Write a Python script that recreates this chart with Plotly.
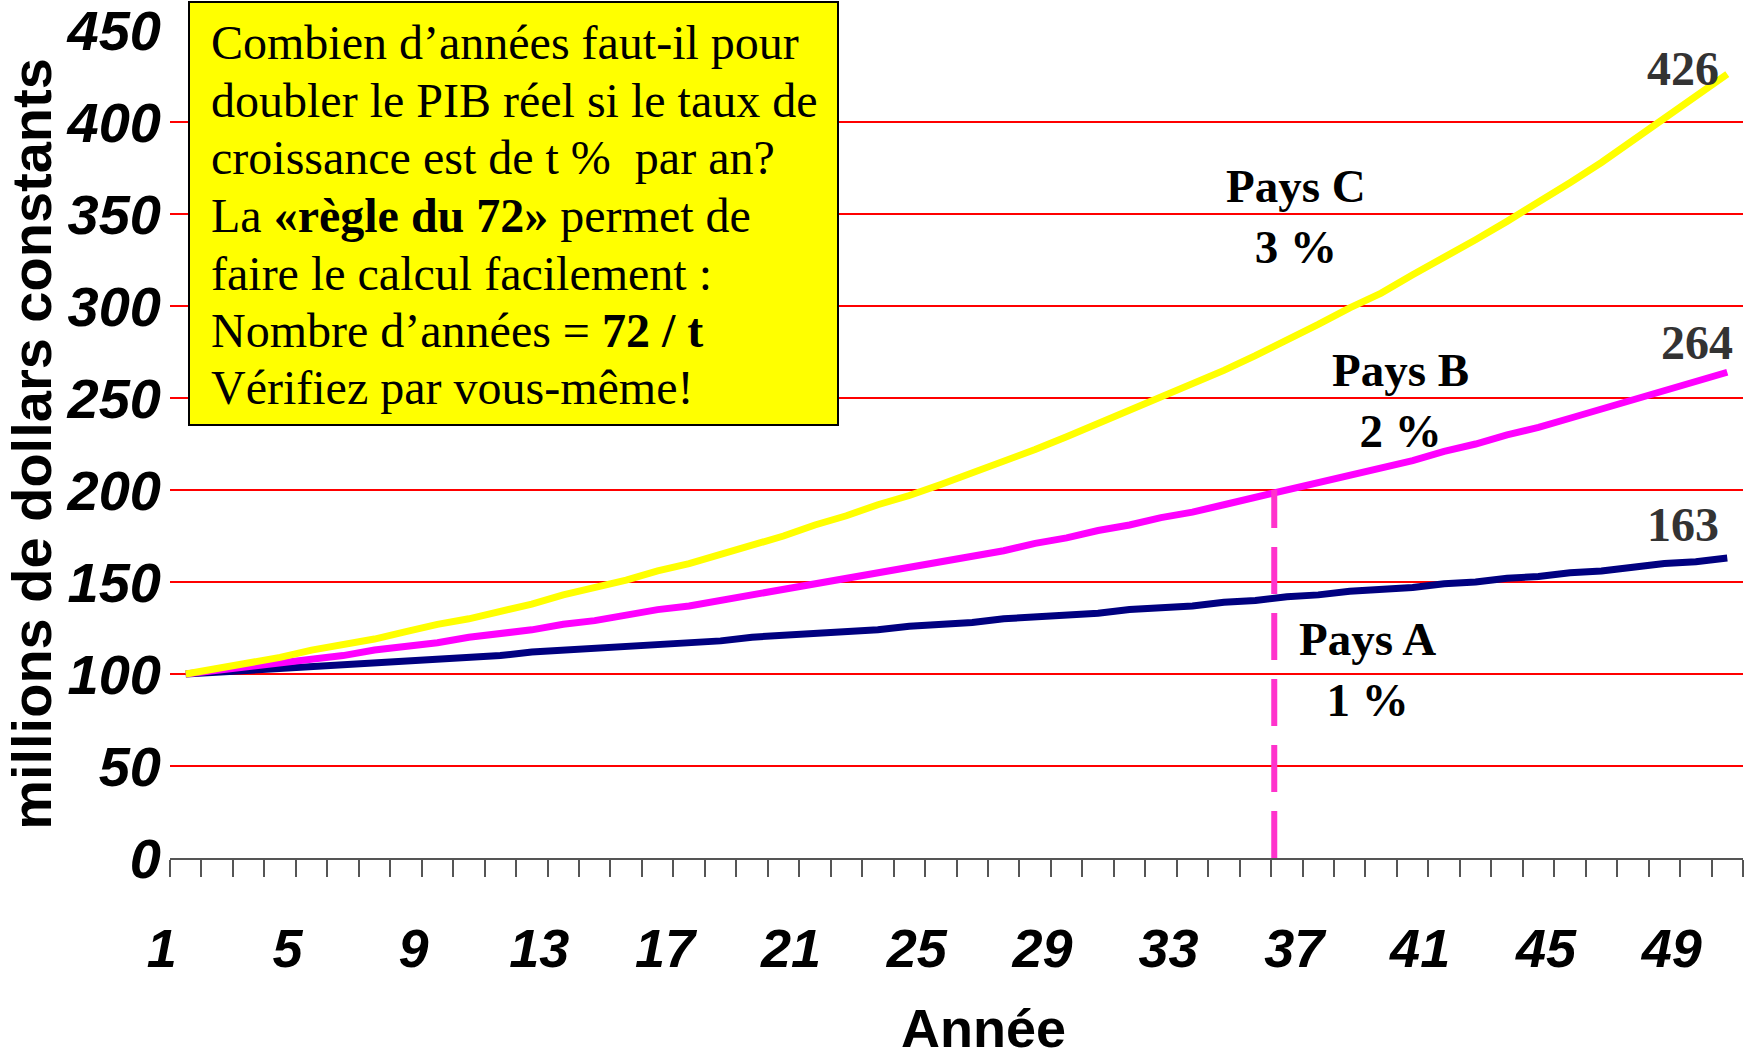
import plotly.graph_objects as go

# ---------------- data ----------------
years = list(range(1, 51))

pays_a = [100, 101, 102, 103, 104, 105, 106, 107, 108, 109,
          110, 112, 113, 114, 115, 116, 117, 118, 120, 121,
          122, 123, 124, 126, 127, 128, 130, 131, 132, 133,
          135, 136, 137, 139, 140, 142, 143, 145, 146, 147,
          149, 150, 152, 153, 155, 156, 158, 160, 161, 163]

pays_b = [100, 102, 104, 106, 108, 110, 113, 115, 117, 120,
          122, 124, 127, 129, 132, 135, 137, 140, 143, 146,
          149, 152, 155, 158, 161, 164, 167, 171, 174, 178,
          181, 185, 188, 192, 196, 200, 204, 208, 212, 216,
          221, 225, 230, 234, 239, 244, 249, 254, 259, 264]

pays_c = [100, 103, 106, 109, 113, 116, 119, 123, 127, 130,
          134, 138, 143, 147, 151, 156, 160, 165, 170, 175,
          181, 186, 192, 197, 203, 209, 216, 222, 229, 236,
          243, 250, 258, 265, 273, 281, 290, 299, 307, 317,
          326, 336, 346, 356, 367, 378, 390, 401, 413, 426]

x_tick_vals = [1, 5, 9, 13, 17, 21, 25, 29, 33, 37, 41, 45, 49]
x_tick_text = ["1", "5", "9", "13", "17", "21", "25", "29", "33", "37", "41", "45", "49"]
y_tick_vals = [0, 50, 100, 150, 200, 250, 300, 350, 400, 450]
y_tick_text = ["0", "50", "100", "150", "200", "250", "300", "350", "400", "450"]

box_lines = [
    "Combien d’années faut-il pour",
    "doubler le PIB réel si le taux de",
    "croissance est de t %  par an?",
    "La <b>«règle du 72»</b> permet de",
    "faire le calcul facilement :",
    "Nombre d’années = <b>72 / t</b>",
    "Vérifiez par vous-même!",
]

# ---------------- figure ----------------
SANS = "Liberation Sans, Arial, sans-serif"
SERIF = "Liberation Serif, Times New Roman, serif"

W, H = 1756, 1061
L, T, R, B = 170, 30, 13, 203
PW, PH = W - L - R, H - T - B

fig = go.Figure()
fig.add_trace(go.Scatter(x=years, y=pays_a, mode="lines", name="Pays A",
                         line=dict(color="#000080", width=7), showlegend=False))
fig.add_trace(go.Scatter(x=years, y=pays_b, mode="lines", name="Pays B",
                         line=dict(color="#FF00FF", width=7), showlegend=False))
fig.add_trace(go.Scatter(x=years, y=pays_c, mode="lines", name="Pays C",
                         line=dict(color="#FFFF00", width=7), showlegend=False))

n = len(years)
boundaries = [years[0] - 0.5 + i for i in range(n + 1)]

fig.update_layout(
    width=W, height=H,
    margin=dict(l=L, r=R, t=T, b=B, autoexpand=False),
    paper_bgcolor="white", plot_bgcolor="white",
    xaxis=dict(
        range=[years[0] - 0.5, years[-1] + 0.5], automargin=False,
        tickmode="array", tickvals=x_tick_vals, ticktext=x_tick_text,
        ticks="", showgrid=False, zeroline=False,
        showline=True, linecolor="#555555", linewidth=2,
        tickfont=dict(family=SANS, size=54, color="black", weight="bold", style="italic"),
        ticklabelstandoff=42, ticklabelshift=-24, ticklabeloverflow="allow",
        minor=dict(tickmode="array", tickvals=boundaries, ticks="outside",
                   ticklen=17, tickwidth=1.5, tickcolor="#555555", showgrid=False),
    ),
    yaxis=dict(
        range=[0, 450], automargin=False,
        tickmode="array", tickvals=y_tick_vals, ticktext=y_tick_text,
        ticks="", showgrid=True, gridcolor="#FF0000", gridwidth=2,
        zeroline=False, showline=False,
        tickfont=dict(family=SANS, size=56, color="black", weight="bold", style="italic"),
        ticklabelstandoff=8, ticklabeloverflow="allow",
        title=dict(text="<b>millions de dollars constants</b>",
                   font=dict(family=SANS, size=56, color="black"), standoff=2),
    ),
)


def px(xp):
    """page pixel x -> paper x"""
    return (xp - L) / PW


def py(yp):
    """page pixel y -> paper y"""
    return (H - B - yp) / PH


# x-axis title, placed as in the reference (slightly right of centre)
fig.add_annotation(text="<b>Année</b>", xref="paper", yref="paper",
                   x=px(983), y=py(1028),
                   xanchor="center", yanchor="middle", showarrow=False,
                   font=dict(family=SANS, size=54, color="black"))

# dashed marker where Pays B reaches 200 (doubling)
fig.add_shape(type="line", xref="x", yref="y", x0=35.6, x1=35.6, y0=0, y1=200,
              line=dict(color="#FF33CC", width=6, dash="47px,19px"), layer="above")

# yellow text box
fig.add_shape(type="rect", xref="paper", yref="paper",
              x0=px(189), x1=px(838), y0=py(425), y1=py(2),
              fillcolor="#FFFF00", line=dict(color="black", width=2), layer="above")

line_y = [42.5, 100.8, 157.9, 215.0, 273.3, 330.4, 387.5]
for txt, yy in zip(box_lines, line_y):
    fig.add_annotation(text=txt, xref="paper", yref="paper",
                       x=px(209), y=py(yy),
                       xanchor="left", yanchor="middle", showarrow=False,
                       font=dict(family=SERIF, size=48, color="black"))

# end values
for series, dx, dy in [(pays_c, -44, 6), (pays_b, -30, 30), (pays_a, -44, 34)]:
    fig.add_annotation(text=f"<b>{series[-1]}</b>", x=years[-1], y=series[-1],
                       xshift=dx, yshift=dy, showarrow=False,
                       font=dict(family=SERIF, size=48, color="#333333"))

# country labels
for label, rate, xx, yy in [("Pays C", "3 %", 36.3, 348.8),
                            ("Pays B", "2 %", 39.6, 248.4),
                            ("Pays A", "1 %", 38.55, 102.3)]:
    fig.add_annotation(text=f"<b>{label}<br>{rate}</b>", x=xx, y=yy, showarrow=False,
                       font=dict(family=SERIF, size=47, color="black"))

fig.write_html("out.html", config={"displayModeBar": False},
               post_script="document.body.style.margin='0px';")
